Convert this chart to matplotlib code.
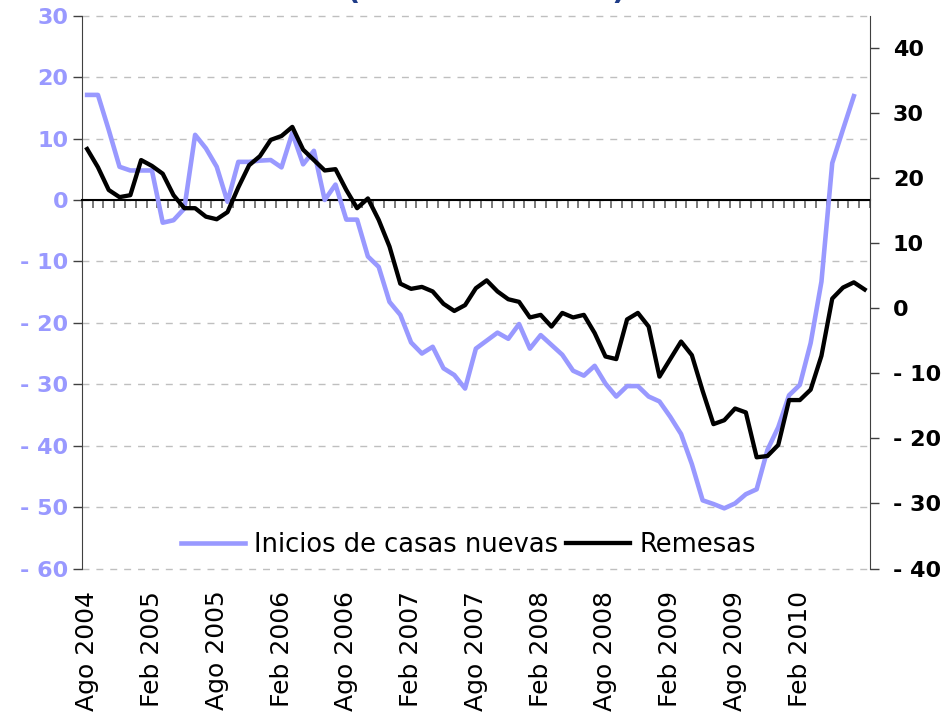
import numpy as np
import matplotlib
matplotlib.use("Agg")
import matplotlib.pyplot as plt
from matplotlib.ticker import FuncFormatter

# monthly data, Ago 2004 .. Ago 2010
inicios = [17.1, 17.1, 11.4, 5.4, 4.8, 4.8, 4.8, -3.7, -3.3, -1.4,
           10.6, 8.4, 5.4, -0.3, 6.2, 6.2, 6.4, 6.5, 5.3, 10.9,
           5.8, 8.0, 0.0, 2.5, -3.2, -3.2, -9.2, -10.9, -16.6, -18.7,
           -23.2, -25.0, -23.9, -27.4, -28.5, -30.7, -24.2, -22.9, -21.6, -22.6,
           -20.2, -24.2, -22.0, -23.6, -25.2, -27.8, -28.6, -27.0, -29.9, -32.0,
           -30.3, -30.3, -32.0, -32.8, -35.3, -38.1, -43.0, -48.9, -49.5, -50.2,
           -49.4, -47.9, -47.1, -40.7, -37.0, -31.8, -30.1, -23.3, -13.3, 6.0,
           11.5, 16.9]
remesas = [24.5, 21.7, 18.2, 17.1, 17.4, 22.8, 21.9, 20.7, 17.4, 15.4,
           15.4, 14.1, 13.7, 14.8, 18.6, 22.0, 23.4, 25.9, 26.5, 27.9,
           24.4, 22.8, 21.2, 21.4, 18.2, 15.4, 16.9, 13.6, 9.5, 3.8,
           3.0, 3.3, 2.6, 0.7, -0.4, 0.5, 3.1, 4.3, 2.6, 1.4,
           1.0, -1.4, -1.0, -2.8, -0.7, -1.4, -1.0, -3.8, -7.4, -7.8,
           -1.7, -0.7, -2.8, -10.5, -7.8, -5.1, -7.2, -12.7, -17.8, -17.2,
           -15.4, -16.0, -22.9, -22.7, -21.0, -14.1, -14.1, -12.5, -7.3, 1.5,
           3.2, 4.0, 2.9]
n_months = 73
tick_labels = ["Ago 2004", "Feb 2005", "Ago 2005", "Feb 2006", "Ago 2006", "Feb 2007",
               "Ago 2007", "Feb 2008", "Ago 2008", "Feb 2009", "Ago 2009", "Feb 2010"]
label_step = 6

blue = "#9999FF"


def fmt(v, p):
    v = int(round(v))
    return f"- {abs(v)}" if v < 0 else f"{v}"


fig = plt.figure(figsize=(9.46, 7.12), dpi=100)
ax = fig.add_axes([0.0864, 0.2015, 0.8333, 0.7765])
ax2 = ax.twinx()

l1, = ax.plot(np.arange(len(inicios)), inicios, color=blue, lw=3.3, zorder=3)
l2, = ax2.plot(np.arange(len(remesas)), remesas, color="black", lw=3.1, zorder=3)

ax.set_xlim(-0.5, n_months - 0.5)
ax.set_ylim(-60, 30)
ax.set_yticks(range(-60, 31, 10))
ax.yaxis.set_major_formatter(FuncFormatter(fmt))
ax.yaxis.grid(True, color="#BFBFBF", lw=1, linestyle=(0, (5, 5)))
for g in ax.get_ygridlines():
    g.set_clip_on(False)
ax.set_axisbelow(True)
ax.tick_params(axis="y", direction="out", length=6.5, width=1, color="#404040",
               labelcolor=blue, labelsize=16, pad=3)
for t in ax.get_yticklabels():
    t.set_fontweight("bold")

# category axis crossing at 0, monthly tick marks
ax.spines["bottom"].set_position(("data", 0))
ax.spines["bottom"].set_color("black")
ax.spines["bottom"].set_linewidth(1.5)
ax.spines["top"].set_visible(False)
ax.spines["right"].set_visible(False)
ax.spines["left"].set_color("#404040")
ax.set_xticks(np.arange(-0.5, n_months, 1))
ax.set_xticklabels([])
ax.tick_params(axis="x", direction="out", length=5.5, width=1.3, color="#707070")

for k, lab in enumerate(tick_labels):
    ax.text(k * label_step, -0.04, lab, transform=ax.get_xaxis_transform(),
            rotation=90, ha="center", va="top", fontsize=18)

ax2.set_ylim(-40, 45)
ax2.set_yticks(range(-40, 41, 10))
ax2.yaxis.set_major_formatter(FuncFormatter(fmt))
ax2.tick_params(axis="y", direction="out", length=6.5, width=1, color="#404040",
                labelcolor="black", labelsize=16, pad=10)
for t in ax2.get_yticklabels():
    t.set_fontweight("bold")
for s in ["top", "bottom", "left"]:
    ax2.spines[s].set_visible(False)
ax2.spines["right"].set_color("#404040")

ax2.legend([l1, l2], ["Inicios de casas nuevas", "Remesas"], loc="center",
           bbox_to_anchor=(0.4907, 0.0425), ncol=2, frameon=False, fontsize=18.5,
           handlelength=2.5, handletextpad=0.35, columnspacing=0.3, borderpad=0)

# title is cut off at the top edge, as in the original
fig.text(0.514, 1.0, "(variación anual)", ha="center", va="baseline",
         fontsize=21, fontweight="bold", color="#1F3C88")

fig.savefig("out.png", dpi=100)
